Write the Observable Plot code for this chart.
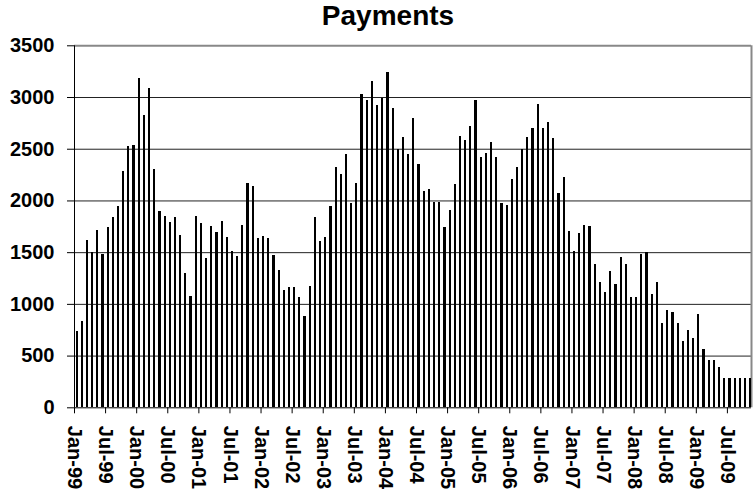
<!DOCTYPE html>
<html>
<head>
<meta charset="utf-8">
<script src="https://cdn.jsdelivr.net/npm/d3@7"></script>
<script src="https://cdn.jsdelivr.net/npm/@observablehq/plot@0.6"></script>
<style>
  html, body { margin: 0; padding: 0; background: #fff; }
  #title { width: 753px; height: 31px; line-height: 31px; box-sizing: border-box; padding-left: 23px;
           text-align: center; font: bold 28px "Liberation Sans", Arial, sans-serif; color: #000; }
</style>
</head>
<body>
<div id="title">Payments</div>
<div id="chart"></div>
<script>
// Monthly payments, Jan-99 .. Nov-09
const values = [
  740, 835, 1620, 1500, 1715, 1485, 1745, 1840, 1950, 2285, 2530, 2535,
  3185, 2825, 3090, 2305, 1900, 1850, 1795, 1840, 1665, 1300, 1075, 1850,
  1785, 1445, 1755, 1695, 1800, 1645, 1510, 1465, 1765, 2170, 2135, 1640,
  1655, 1640, 1475, 1330, 1135, 1165, 1165, 1065, 885, 1175, 1840, 1610,
  1645, 1945, 2325, 2255, 2450, 1975, 2170, 3030, 2975, 3155, 2925, 2995,
  3245, 2895, 2500, 2615, 2450, 2800, 2355, 2090, 2110, 1985, 1985, 1745,
  1910, 2160, 2625, 2585, 2720, 2975, 2420, 2460, 2565, 2420, 1975, 1955,
  2210, 2325, 2500, 2615, 2700, 2935, 2700, 2760, 2605, 2075, 2230, 1705,
  1510, 1685, 1765, 1755, 1385, 1210, 1115, 1320, 1195, 1455, 1385, 1065,
  1065, 1485, 1500, 1095, 1210, 815, 940, 920, 815, 640, 750, 670,
  905, 565, 460, 460, 390, 285, 285, 285, 285, 285, 285
];
const tickLabels = [
  "Jan-99", "Jul-99", "Jan-00", "Jul-00", "Jan-01", "Jul-01", "Jan-02", "Jul-02",
  "Jan-03", "Jul-03", "Jan-04", "Jul-04", "Jan-05", "Jul-05", "Jan-06", "Jul-06",
  "Jan-07", "Jul-07", "Jan-08", "Jul-08", "Jan-09", "Jul-09"
];
const yTicks = [0, 500, 1000, 1500, 2000, 2500, 3000, 3500];

const data = values.map((v, i) => ({i, v}));
const xTicks = tickLabels.map((_, k) => k * 6);

const chart = Plot.plot({
  width: 753,
  height: 468,
  marginLeft: 74,
  marginRight: 2,
  marginTop: 14.3,
  marginBottom: 91.7,
  style: {fontFamily: '"Liberation Sans", Arial, sans-serif', fontSize: "20px", fontWeight: "bold", color: "#000", background: "#fff"},
  x: {type: "linear", domain: [0, 130.65]},
  y: {domain: [0, 3500]},
  marks: [
    Plot.ruleY(yTicks.slice(1, -1), {stroke: "#222", strokeWidth: 1}),
    Plot.ruleY([3500], {stroke: "#888", strokeWidth: 2}),
    Plot.ruleX([130.65], {y1: 0, y2: 3500, stroke: "#888", strokeWidth: 2}),
    Plot.rectY(data, {x1: "i", x2: d => d.i + 1, y: "v", insetLeft: 1.5, insetRight: 1.5, fill: "#000", shapeRendering: "crispEdges"}),
    Plot.ruleY([0], {stroke: "#000", strokeWidth: 1}),
    Plot.ruleX([0], {y1: 0, y2: 3500, stroke: "#000", strokeWidth: 1}),
    Plot.axisY({ticks: yTicks, tickFormat: d => String(d), tickSize: 7, tickPadding: 13, label: null, fontSize: 20, fontWeight: "bold"}),
    Plot.axisX({ticks: xTicks, tickFormat: d => tickLabels[Math.round(d / 6)], tickRotate: 90, tickSize: 6, tickPadding: 12, label: null, fontSize: 20, fontWeight: "bold"})
  ]
});
document.getElementById("chart").appendChild(chart);
</script>
</body>
</html>
